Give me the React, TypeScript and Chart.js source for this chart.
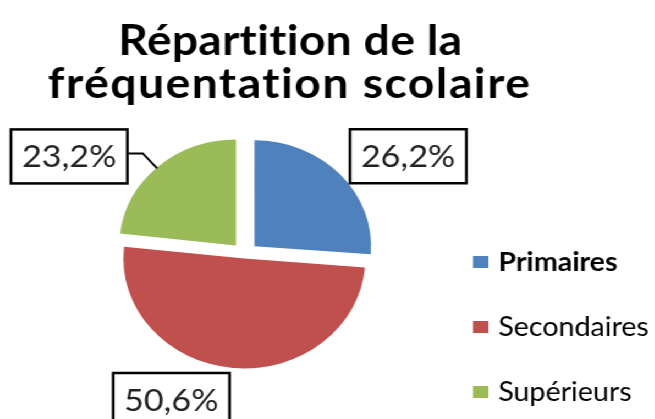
import React, { useEffect, useRef } from "react";
import { Chart, registerables } from "chart.js";

Chart.register(...registerables);

const titleLines = ["Répartition de la", "fréquentation scolaire"];
const categories = ["Primaires", "Secondaires", "Supérieurs"];
const shares = [26.2, 50.6, 23.2];
const shareLabels = ["26,2%", "50,6%", "23,2%"];
const sliceColors = ["#4F81BD", "#C0504D", "#9BBB59"];
const sliceOffsets = [48, 16, 48];

// label box offsets relative to each slice's outer point at mid angle
const labelShift = [
  { dx: 62, dy: -18 },
  { dx: -56, dy: 32 },
  { dx: -81, dy: -10 },
];

const FONT = "Lato, 'Open Sans', sans-serif";
const STRETCH = 1.1;
const W = 595;
const H = 419;
const titleWidths = [311, 439];
const titleBaselines = [55, 98];

const overlayPlugin = {
  id: "overlay",
  afterDraw(chart: any) {
    const ctx = chart.ctx as any;
    ctx.save();
    // title
    ctx.fillStyle = "#000";
    ctx.textAlign = "left";
    ctx.textBaseline = "alphabetic";
    ctx.font = `bold 42px ${FONT}`;
    titleLines.forEach((line, i) => {
      ctx.letterSpacing = "0px";
      const w0 = ctx.measureText(line).width;
      const sp = Math.max(0.3, (titleWidths[i] - w0) / (line.length - 1));
      ctx.letterSpacing = `${sp}px`;
      ctx.fillText(line, 263 - titleWidths[i] / 2, titleBaselines[i]);
    });
    ctx.letterSpacing = "0px";

    // data labels
    const meta = chart.getDatasetMeta(0);
    meta.data.forEach((arc: any, i: number) => {
      const p = arc.getProps(["x", "y", "startAngle", "endAngle", "outerRadius", "circumference"], true);
      const off = (arc.options.offset || 0) / 4;
      const fix = 1 - Math.sin(Math.min(Math.PI, p.circumference || 0));
      const mid = (p.startAngle + p.endAngle) / 2;
      const r = p.outerRadius + off + off * fix;
      const ox = p.x + Math.cos(mid) * r;
      const oy = p.y + Math.sin(mid) * r;
      const cx = ox + labelShift[i].dx;
      const cy = oy + labelShift[i].dy;
      ctx.font = `31px ${FONT}`;
      const tw = ctx.measureText(shareLabels[i]).width;
      const bw = tw + 20;
      const bh = 54;
      const bx = cx - bw / 2;
      const by = cy - bh / 2;
      if (i === 2) {
        ctx.strokeStyle = "#000";
        ctx.lineWidth = 2;
        ctx.beginPath();
        ctx.moveTo(bx + bw, cy - 3);
        ctx.lineTo(bx + bw + 14, cy - 3);
        ctx.lineTo(ox - 1, oy + 2);
        ctx.stroke();
      }
      ctx.fillStyle = "#fff";
      ctx.fillRect(bx, by, bw, bh);
      ctx.strokeStyle = "#000";
      ctx.lineWidth = 2.5;
      ctx.strokeRect(bx, by, bw, bh);
      ctx.fillStyle = "#222";
      ctx.textAlign = "center";
      ctx.textBaseline = "alphabetic";
      ctx.fillText(shareLabels[i], cx, cy + 11);
    });

    // legend
    const colors = chart.data.datasets[0].backgroundColor as string[];
    chart.data.labels.forEach((lab: string, i: number) => {
      const y = 262 + i * 65;
      ctx.fillStyle = colors[i];
      ctx.fillRect(430, y - 6, 14, 12);
      ctx.fillStyle = "#000";
      ctx.textAlign = "left";
      ctx.textBaseline = "middle";
      ctx.font = `${i === 0 ? "bold " : ""}26px ${FONT}`;
      ctx.fillText(lab, 453, y + 1);
    });
    ctx.restore();
  },
};

export default function App() {
  const ref = useRef<HTMLCanvasElement | null>(null);
  useEffect(() => {
    document.body.style.margin = "0";
    const canvas = ref.current;
    if (!canvas) return;
    const chart = new Chart(canvas, {
      type: "pie",
      data: {
        labels: categories,
        datasets: [
          {
            data: shares,
            backgroundColor: sliceColors,
            borderWidth: 0,
            offset: sliceOffsets,
            radius: 106,
          } as any,
        ],
      },
      options: {
        responsive: false,
        animation: false,
        devicePixelRatio: 1,
        layout: { padding: { left: 0, right: 150, top: 130, bottom: 40 } },
        plugins: {
          legend: { display: false },
          title: { display: false },
          tooltip: { enabled: false },
        },
        events: [],
      },
      plugins: [overlayPlugin],
    });
    return () => chart.destroy();
  }, []);
  return (
    <div style={{ width: W, height: H, transform: `scaleX(${STRETCH})`, transformOrigin: "0 0", background: "#fff" }}>
      <canvas ref={ref} width={W} height={H} style={{ width: W, height: H, display: "block" }} />
    </div>
  );
}
